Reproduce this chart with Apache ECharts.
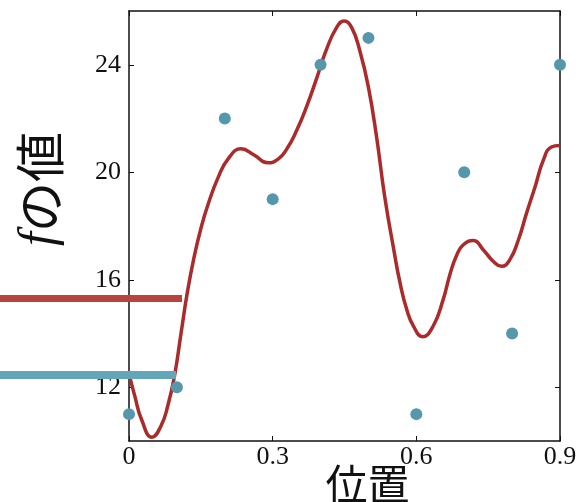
<!DOCTYPE html>
<html>
<head>
<meta charset="utf-8">
<script src="https://cdn.jsdelivr.net/npm/echarts@6/dist/echarts.min.js"></script>
<style>
html,body{margin:0;padding:0;background:#fff;}
#c{width:582px;height:502px;}
</style>
</head>
<body>
<div id="c"></div>
<script>
// observed data points
const pointX = [0, 0.1, 0.2, 0.3, 0.4, 0.5, 0.6, 0.7, 0.8, 0.9];
const pointY = [11, 12, 22, 19, 24, 25, 11, 20, 14, 24];

// smooth curve
const curveX = [0, 0.012, 0.026, 0.048, 0.067, 0.081, 0.095, 0.109, 0.122, 0.136,
  0.150, 0.165, 0.186, 0.207, 0.234, 0.262, 0.290, 0.312, 0.329, 0.350,
  0.371, 0.392, 0.413, 0.434, 0.449, 0.465, 0.482, 0.500, 0.517, 0.534,
  0.553, 0.566, 0.580, 0.594, 0.613, 0.635, 0.656, 0.670, 0.684, 0.698,
  0.719, 0.740, 0.761, 0.778, 0.795, 0.813, 0.830, 0.848, 0.865, 0.882, 0.9];
const curveY = [12.5, 11.68, 10.81, 10.14, 10.57, 11.31, 12.42, 14.05, 15.55, 16.85,
  17.9, 18.8, 19.8, 20.5, 20.87, 20.63, 20.35, 20.5, 20.85, 21.55,
  22.45, 23.5, 24.6, 25.4, 25.63, 25.38, 24.52, 23.16, 21.31, 19.09,
  17.11, 15.88, 14.89, 14.27, 13.88, 14.27, 15.26, 16.19, 16.9, 17.30,
  17.46, 17.11, 16.68, 16.50, 16.74, 17.48, 18.47, 19.46, 20.44, 20.94, 21.0];

const yTicks = [12, 16, 20, 24];
const xTicks = [0, 0.3, 0.6, 0.9];

const curveName = '曲線';
const pointName = 'データ';

const red = '#ab2a2b';
const blue = '#5597ab';
const legendRed = '#b9433d';
const legendBlue = '#63a6b9';
const axisColor = '#111';
const tickFont = 'Liberation Serif';

const chart = echarts.init(document.getElementById('c'));

const baseX = {
  type: 'value', min: 0, max: 0.9, interval: 0.3,
  axisLine: { show: true, onZero: false, lineStyle: { color: axisColor, width: 1.5 } },
  axisTick: { show: true, inside: true, length: 5, lineStyle: { color: axisColor, width: 1 } },
  splitLine: { show: false }
};
const baseY = {
  type: 'value', min: 10, max: 26,
  axisLine: { show: true, onZero: false, lineStyle: { color: axisColor, width: 1.5 } },
  axisTick: { show: true, inside: true, length: 5, customValues: yTicks, lineStyle: { color: axisColor, width: 1 } },
  splitLine: { show: false }
};

chart.setOption({
  animation: false,
  backgroundColor: '#fff',
  grid: { left: 129, right: 22, top: 11, bottom: 61, containLabel: false, outerBoundsMode: 'none' },
  legend: [
    {
      data: [{ name: curveName, itemStyle: { color: legendRed, borderWidth: 0 } }],
      left: 0, top: 295, padding: 0, icon: 'rect', itemWidth: 182, itemHeight: 7,
      formatter: function () { return ''; }, textStyle: { fontSize: 1 }, selectedMode: false
    },
    {
      data: [{ name: pointName, itemStyle: { color: legendBlue, borderWidth: 0 } }],
      left: 0, top: 371, padding: 0, icon: 'rect', itemWidth: 176, itemHeight: 8,
      formatter: function () { return ''; }, textStyle: { fontSize: 1 }, selectedMode: false
    }
  ],
  xAxis: [
    Object.assign({}, baseX, {
      position: 'bottom',
      axisLabel: { show: true, margin: 3, fontFamily: tickFont, fontSize: 26, color: axisColor, customValues: xTicks },
      name: '位置', nameLocation: 'middle', nameGap: 22, nameMoveOverlap: false,
      nameTextStyle: { fontFamily: 'Noto Sans CJK JP', fontSize: 42, color: axisColor, padding: [0, 0, 0, 46] }
    }),
    Object.assign({}, baseX, { position: 'top', axisLabel: { show: false } })
  ],
  yAxis: [
    Object.assign({}, baseY, {
      position: 'left',
      axisLabel: { show: true, margin: 8, fontFamily: tickFont, fontSize: 26, color: axisColor, customValues: yTicks },
      name: '{f|f}の値', nameLocation: 'middle', nameRotate: 90, nameGap: 64, nameMoveOverlap: false,
      nameTextStyle: {
        fontFamily: 'Noto Sans CJK JP', fontSize: 50, color: axisColor, padding: [0, 0, 0, 74],
        rich: { f: { fontFamily: 'Liberation Serif', fontStyle: 'italic', fontSize: 50, color: axisColor } }
      }
    }),
    Object.assign({}, baseY, { position: 'right', axisLabel: { show: false } })
  ],
  series: [
    {
      name: curveName, type: 'line', xAxisIndex: 0, yAxisIndex: 0,
      data: curveX.map((x, i) => [x, curveY[i]]),
      smooth: 0.5, showSymbol: false, symbol: 'none',
      lineStyle: { color: red, width: 3.5 }, itemStyle: { color: red }, z: 3
    },
    {
      name: pointName, type: 'scatter', xAxisIndex: 0, yAxisIndex: 0,
      data: pointX.map((x, i) => [x, pointY[i]]),
      symbolSize: 12, clip: false,
      itemStyle: { color: blue, opacity: 1 }, z: 4
    }
  ]
});
</script>
</body>
</html>
